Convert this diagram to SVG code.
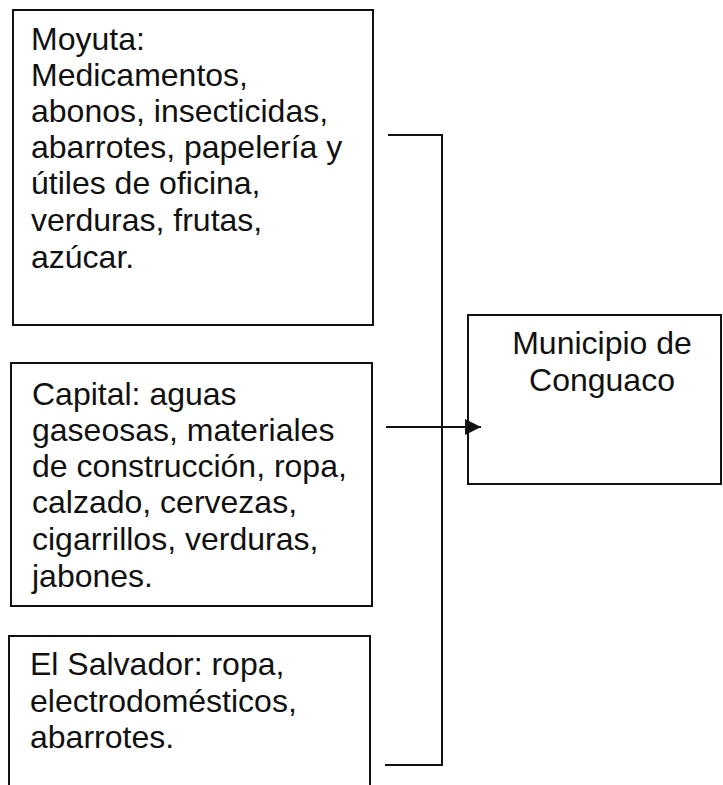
<svg xmlns="http://www.w3.org/2000/svg" width="723" height="785" viewBox="0 0 723 785">
<style>
.box{fill:#fff;stroke:#111;stroke-width:2}
.t{font-family:"Liberation Sans",Arial,sans-serif;font-size:32px;fill:#111}
.c{fill:none;stroke:#111;stroke-width:2}
</style>
<defs>
<marker id="ah" markerWidth="16" markerHeight="16" refX="16" refY="8" orient="auto" markerUnits="userSpaceOnUse">
<path d="M0,0 L16,8 L0,16 Z" fill="#111"/>
</marker>
</defs>
<rect width="723" height="785" fill="#fff"/>
<g id="moyuta">
<rect class="box" x="13" y="10" width="360" height="315"/>
<text class="t" x="31" y="50">Moyuta:</text>
<text class="t" x="31" y="86">Medicamentos,</text>
<text class="t" x="31" y="122">abonos, insecticidas,</text>
<text class="t" x="31" y="158">abarrotes, papelería y</text>
<text class="t" x="31" y="194">útiles de oficina,</text>
<text class="t" x="31" y="231">verduras, frutas,</text>
<text class="t" x="31" y="268">azúcar.</text>
</g>
<g id="capital">
<rect class="box" x="11" y="363" width="361" height="243"/>
<text class="t" x="32" y="405">Capital: aguas</text>
<text class="t" x="32" y="441">gaseosas, materiales</text>
<text class="t" x="32" y="477">de construcción, ropa,</text>
<text class="t" x="32" y="513">calzado, cervezas,</text>
<text class="t" x="32" y="550">cigarrillos, verduras,</text>
<text class="t" x="32" y="587">jabones.</text>
</g>
<g id="salvador">
<rect class="box" x="9" y="636" width="361" height="170"/>
<text class="t" x="30" y="675">El Salvador: ropa,</text>
<text class="t" x="30" y="712">electrodomésticos,</text>
<text class="t" x="30" y="748">abarrotes.</text>
</g>
<g id="conguaco">
<rect class="box" x="468" y="315" width="253" height="169"/>
<text class="t" x="602" y="354" text-anchor="middle">Municipio de</text>
<text class="t" x="602" y="391" text-anchor="middle">Conguaco</text>
</g>
<g id="connectors">
<polyline class="c" points="388,135 442,135 442,765 385,765"/>
<line class="c" x1="386" y1="427" x2="481" y2="427" marker-end="url(#ah)"/>
</g>
</svg>
